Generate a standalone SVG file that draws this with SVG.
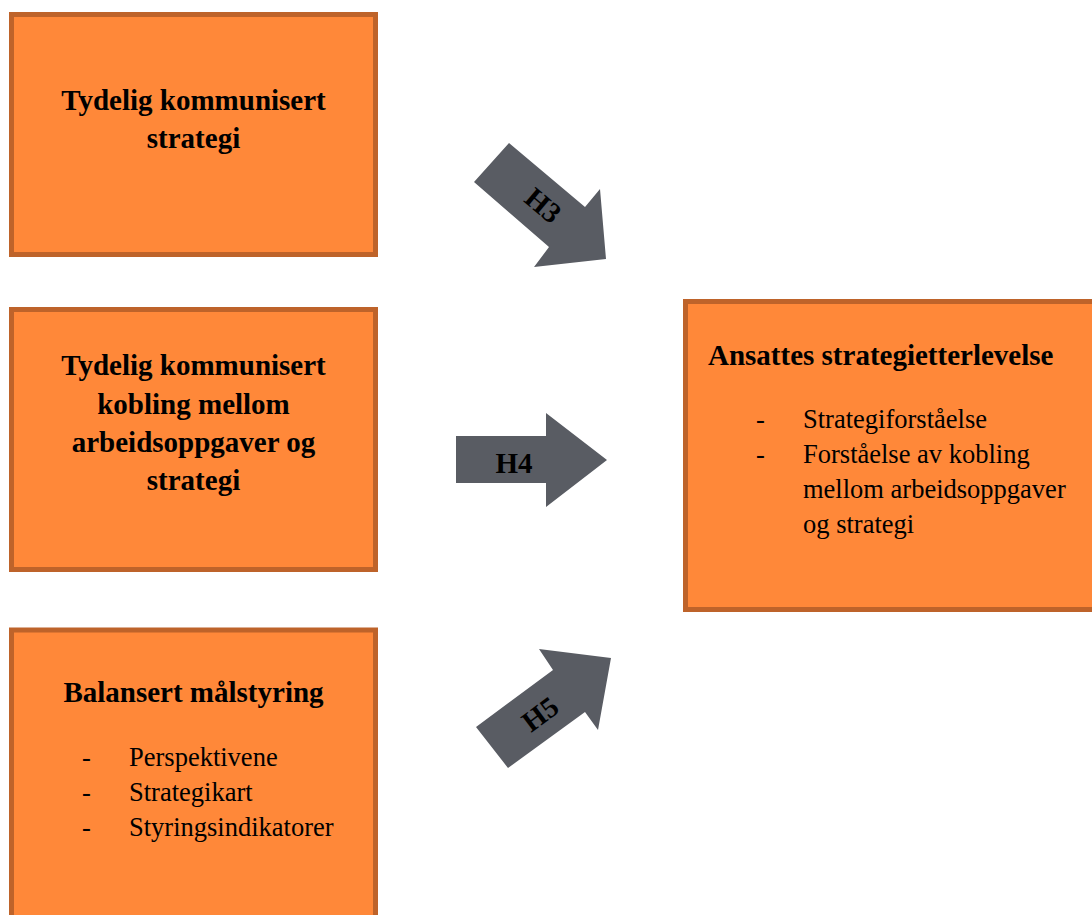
<svg xmlns="http://www.w3.org/2000/svg" width="1092" height="915" viewBox="0 0 1092 915">
<style>
.box{fill:#FF8839;stroke:#BE632A;stroke-width:5}
.arr{fill:#595C63}
.h{font-family:"Liberation Serif","Times New Roman",serif;font-weight:bold;font-size:29px;fill:#000;text-anchor:middle}
.b{font-family:"Liberation Serif","Times New Roman",serif;font-size:26.5px;fill:#000}
.lbl{font-family:"Liberation Serif","Times New Roman",serif;font-weight:bold;font-size:29px;fill:#000;text-anchor:middle}
</style>
<rect width="1092" height="915" fill="#fff"/>
<g id="node1">
<rect class="box" x="11.5" y="14.5" width="364" height="240"/>
<text class="h" x="193.5" y="110">Tydelig kommunisert</text>
<text class="h" x="193.5" y="148">strategi</text>
</g>
<g id="node2">
<rect class="box" x="11.5" y="309.5" width="364" height="260"/>
<text class="h" x="193.5" y="375">Tydelig kommunisert</text>
<text class="h" x="193.5" y="414">kobling mellom</text>
<text class="h" x="193.5" y="452">arbeidsoppgaver og</text>
<text class="h" x="193.5" y="490">strategi</text>
</g>
<g id="node3">
<rect class="box" x="11.5" y="630" width="364" height="300"/>
<text class="h" x="193.5" y="702">Balansert målstyring</text>
<text class="b" x="82" y="766">-</text><text class="b" x="129" y="766">Perspektivene</text>
<text class="b" x="82" y="801">-</text><text class="b" x="129" y="801">Strategikart</text>
<text class="b" x="82" y="836">-</text><text class="b" x="129" y="836">Styringsindikatorer</text>
</g>
<g id="node4">
<rect class="box" x="685.5" y="301.5" width="420" height="308"/>
<text class="h" x="708" y="365" style="text-anchor:start">Ansattes strategietterlevelse</text>
<text class="b" x="756" y="428">-</text><text class="b" x="803" y="428">Strategiforståelse</text>
<text class="b" x="756" y="463">-</text><text class="b" x="803" y="463">Forståelse av kobling</text>
<text class="b" x="803" y="498">mellom arbeidsoppgaver</text>
<text class="b" x="803" y="533">og strategi</text>
</g>
<g id="connectors">
<g id="H3">
<polygon class="arr" points="474,182 509,143 585,207 600,189 606,259 534,267 549,247"/>
<text class="lbl" transform="translate(537,213) rotate(40)">H3</text>
</g>
<g id="H4">
<polygon class="arr" points="456,436 546,436 546,413 607,460 546,507 546,483 456,483"/>
<text class="lbl" x="514" y="473">H4</text>
</g>
<g id="H5">
<polygon class="arr" points="508,768 476,727 553,670 539,649 611,658 598,730 585,712"/>
<text class="lbl" transform="translate(546,722) rotate(-36.5)">H5</text>
</g>
</g>
</svg>
